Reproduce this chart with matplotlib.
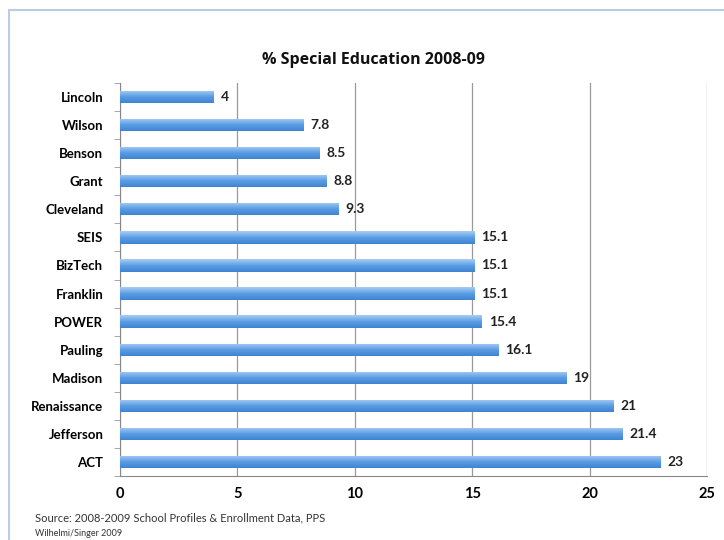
import matplotlib
matplotlib.use("Agg")
import matplotlib.pyplot as plt
import numpy as np
from matplotlib.patches import Rectangle
from matplotlib.colors import LinearSegmentedColormap

plt.rcParams['font.family'] = ['Lato', 'DejaVu Sans']

schools = ["Lincoln", "Wilson", "Benson", "Grant", "Cleveland", "SEIS", "BizTech",
           "Franklin", "POWER", "Pauling", "Madison", "Renaissance", "Jefferson", "ACT"]
values = [4, 7.8, 8.5, 8.8, 9.3, 15.1, 15.1, 15.1, 15.4, 16.1, 19, 21, 21.4, 23]
value_labels = ["4", "7.8", "8.5", "8.8", "9.3", "15.1", "15.1", "15.1", "15.4", "16.1",
                "19", "21", "21.4", "23"]
xticks = [0, 5, 10, 15, 20, 25]

fig = plt.figure(figsize=(7.24, 5.40), dpi=100)
fig.patch.set_facecolor("white")

# outer chart border
border = Rectangle((9/724, -0.05), 1.0, 1 - 10/540 + 0.05, transform=fig.transFigure,
                   fill=False, edgecolor="#b9cde5", linewidth=1.5)
fig.patches.append(border)

ax = fig.add_axes([120/724, 1 - 476/540, (707 - 120)/724, (476 - 83)/540])
y = np.arange(len(schools))
bar_h = 0.44
bars = ax.barh(y, values, height=bar_h, color="#4f90d6", edgecolor="none", zorder=3)

# gradient for bars
grad = np.linspace(0, 1, 64).reshape(-1, 1)
cmap = LinearSegmentedColormap.from_list("b", ["#a9cdf2", "#5b9ee6", "#3f82cf"])
for b in bars:
    x0, y0 = b.get_x(), b.get_y()
    w, h = b.get_width(), b.get_height()
    im = ax.imshow(grad, extent=[x0, x0 + w, y0 + h, y0], aspect="auto", cmap=cmap,
                   zorder=4, origin="upper")
    im.set_clip_path(b)

for yi, v, lab in zip(y, values, value_labels):
    ax.text(v + 0.3, yi, lab, va="center", ha="left", fontsize=10, fontweight="bold",
            color="#222222", zorder=5)

ax.set_xlim(0, 25)
ax.set_ylim(len(schools) - 0.5, -0.5)
ax.set_xticks(xticks)
ax.set_xticklabels([str(t) for t in xticks], fontsize=10.5, fontweight="bold")
ax.set_yticks(y)
ax.set_yticklabels(schools, fontsize=9.5, fontweight="bold")
ax.tick_params(axis="y", length=0, pad=12)
ax.tick_params(axis="x", length=0, pad=8)
ax.set_yticks(np.arange(-0.5, len(schools) + 0.5, 1), minor=True)
ax.tick_params(axis="y", which="minor", length=4, color="#999999", direction="out")
ax.grid(axis="x", color="#9a9a9a", linewidth=0.9, zorder=0)
for s in ["top", "right"]:
    ax.spines[s].set_visible(False)
ax.spines["left"].set_color("#888888")
ax.spines["bottom"].set_color("#888888")

fig.text(373/724, 1 - 60/540, "% Special Education 2008-09", ha="center", va="center",
         fontsize=11.5, fontweight="bold", color="#111111",
         family=["Open Sans", "DejaVu Sans"])
fig.text(35/724, 1 - 518/540, "Source: 2008-2009 School Profiles & Enrollment Data, PPS",
         ha="left", va="center", fontsize=8, color="#333333")
fig.text(35/724, 1 - 533/540, "Wilhelmi/Singer 2009", ha="left", va="center",
         fontsize=6.5, color="#333333")

fig.savefig("out.png", dpi=100)
